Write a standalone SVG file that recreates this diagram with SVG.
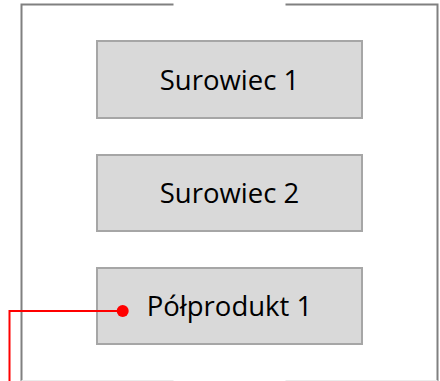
<svg xmlns="http://www.w3.org/2000/svg" width="440" height="381" viewBox="0 0 440 381">
<style>
.frame{fill:none;stroke:#808080;stroke-width:2}
.box{fill:#d9d9d9;stroke:#a6a6a6;stroke-width:2}
.lbl{font-family:"Open Sans","Noto Sans",sans-serif;font-size:27.5px;fill:#000;text-anchor:middle}
.conn{fill:none;stroke:#ff0000;stroke-width:2}
</style>
<rect width="440" height="381" fill="#ffffff"/>
<g id="frame">
<path class="frame" d="M173.5,4.5 H21.5 V381 M285.5,4.5 H437.5 V381"/>
<path d="M21.5,380.5 H173.5 M285.5,380.5 H437.5" fill="none" stroke="#ebebeb" stroke-width="1"/>
</g>
<g id="surowiec1">
<rect class="box" x="97" y="41" width="265" height="77"/>
<text class="lbl" x="229.5" y="89.5">Surowiec 1</text>
</g>
<g id="surowiec2">
<rect class="box" x="97" y="155" width="265" height="76"/>
<text class="lbl" x="229.5" y="202.5">Surowiec 2</text>
</g>
<g id="polprodukt1">
<rect class="box" x="97" y="268" width="265" height="76"/>
<text class="lbl" x="229.5" y="316">Półprodukt 1</text>
</g>
<g id="connectors">
<path class="conn" d="M122.7,311 H9.5 V381"/>
<circle cx="122.7" cy="311" r="6" fill="#ff0000"/>
</g>
</svg>
